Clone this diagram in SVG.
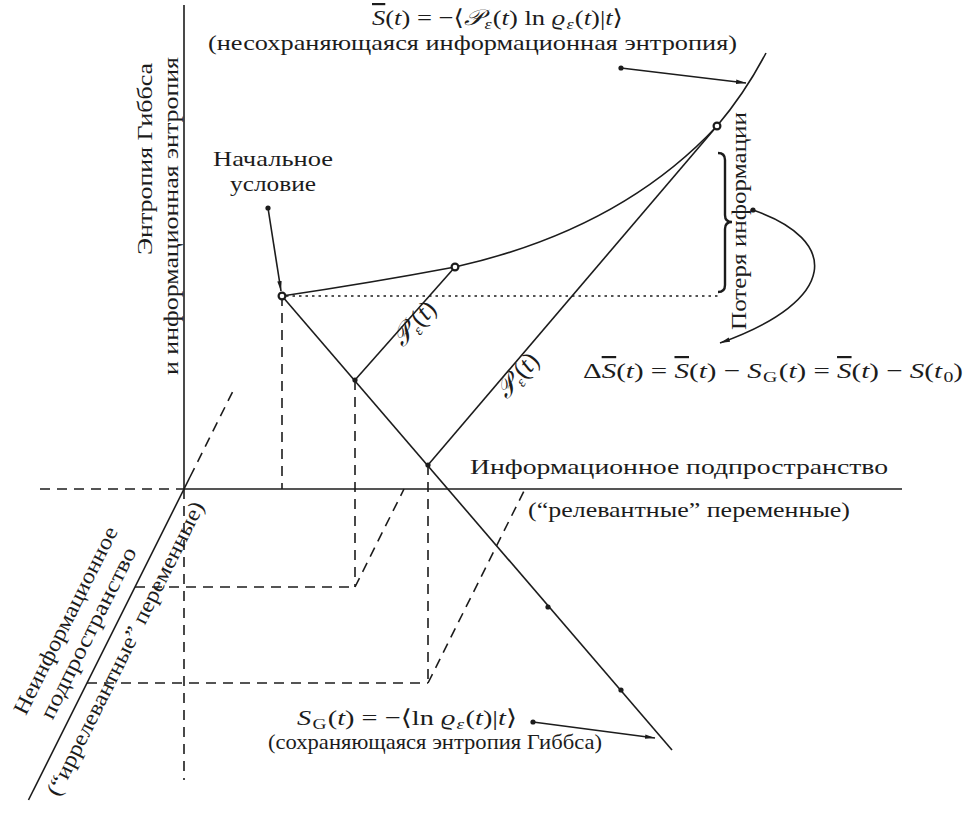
<svg xmlns="http://www.w3.org/2000/svg" width="972" height="822" viewBox="0 0 972 822">
<style>
.ln{stroke:#1c1c1c;stroke-width:1.6;fill:none}
.ds{stroke-dasharray:10 7}
.dt{stroke-dasharray:2.5 4}
.t{font-family:"Liberation Serif","DejaVu Serif",serif;font-size:22px;fill:#1c1c1c}
.i{font-style:italic}
.sub{font-size:15px}
.dot{fill:#1c1c1c}
.oc{fill:#fff;stroke:#1c1c1c;stroke-width:2.2}
</style>
<defs>
<marker id="ar" viewBox="0 0 10 6" refX="10" refY="3" markerWidth="10" markerHeight="6" markerUnits="userSpaceOnUse" orient="auto">
<path d="M0,0.8 L10,3 L0,5.2 Z" fill="#1c1c1c"/>
</marker>
</defs>
<rect width="972" height="822" fill="#fff"/>

<g id="axes">
<line class="ln" x1="184" y1="5" x2="184" y2="489"/>
<line class="ln" x1="184" y1="489" x2="902" y2="489"/>
<line class="ln ds" x1="40" y1="489" x2="184" y2="489"/>
<line class="ln ds" x1="184" y1="489" x2="184" y2="780"/>
<line class="ln" x1="28.5" y1="800" x2="190" y2="477"/>
<line class="ln ds" x1="190" y1="477" x2="234" y2="389"/>
</g>

<g id="connectors">
<line class="ln ds" x1="282" y1="296" x2="282" y2="489"/>
<line class="ln ds" x1="355" y1="380" x2="355" y2="587"/>
<line class="ln ds" x1="428" y1="465" x2="428" y2="683"/>
<line class="ln ds" x1="135" y1="587" x2="355" y2="587"/>
<line class="ln ds" x1="87" y1="683" x2="428" y2="683"/>
<line class="ln ds" x1="355" y1="587" x2="404" y2="489"/>
<line class="ln ds" x1="428" y1="683" x2="525" y2="489"/>
<line class="ln dt" x1="286" y1="296" x2="719" y2="296"/>
<line class="ln" x1="282" y1="296" x2="672" y2="750"/>
<line class="ln" x1="355" y1="380" x2="455" y2="267"/>
<line class="ln" x1="428" y1="465" x2="717" y2="126"/>
<path class="ln" d="M282,296 Q370,283 455,267 Q620,230 717,126 Q745,93 766,53"/>
<path d="M718,153 Q725,153 725,160 L725,215 Q725,222 732,222 Q725,222 725,229 L725,285 Q725,292 718,292" fill="none" stroke="#1c1c1c" stroke-width="2.4"/>
<line class="ln" x1="268" y1="208" x2="281" y2="291" marker-end="url(#ar)"/>
<line class="ln" x1="621" y1="68" x2="746" y2="83" marker-end="url(#ar)"/>
<line class="ln" x1="533" y1="722" x2="655" y2="738" marker-end="url(#ar)"/>
<path class="ln" d="M753,210 C840,240 840,300 720,343" marker-end="url(#ar)"/>
</g>

<g id="points">
<circle class="dot" cx="268" cy="208" r="2.6"/>
<circle class="dot" cx="621" cy="68" r="2.6"/>
<circle class="dot" cx="533" cy="722" r="2.6"/>
<circle class="dot" cx="753" cy="210" r="2.6"/>
<circle class="dot" cx="355" cy="380" r="2.6"/>
<circle class="dot" cx="428" cy="465" r="2.6"/>
<circle class="dot" cx="548" cy="607" r="2.6"/>
<circle class="dot" cx="621" cy="690" r="2.6"/>
<circle class="oc" cx="282" cy="296" r="3.4"/>
<circle class="oc" cx="455" cy="267" r="3.4"/>
<circle class="oc" cx="717" cy="126" r="3.4"/>
</g>

<g id="labels">
<text class="t" x="372" y="25" textLength="251" lengthAdjust="spacingAndGlyphs"><tspan class="i" text-decoration="overline">S</tspan>(<tspan class="i">t</tspan>) = −⟨<tspan class="i">𝒫</tspan><tspan class="i sub" dx="1" dy="4">ε</tspan><tspan dx="1" dy="-4">(</tspan><tspan class="i">t</tspan>) ln <tspan class="i">ϱ</tspan><tspan class="i sub" dx="1" dy="4">ε</tspan><tspan dx="1" dy="-4">(</tspan><tspan class="i">t</tspan>)|<tspan class="i">t</tspan>⟩</text>
<text class="t" x="208" y="50" textLength="529" lengthAdjust="spacingAndGlyphs">(несохраняющаяся информационная энтропия)</text>

<text class="t" x="213" y="166" textLength="120" lengthAdjust="spacingAndGlyphs">Начальное</text>
<text class="t" x="230" y="191" textLength="86" lengthAdjust="spacingAndGlyphs">условие</text>

<text class="t" transform="translate(152 255) rotate(-90)" textLength="192" lengthAdjust="spacingAndGlyphs">Энтропия Гиббса</text>
<text class="t" transform="translate(178 375) rotate(-90)" textLength="318" lengthAdjust="spacingAndGlyphs">и информационная энтропия</text>

<text class="t" transform="translate(746 330) rotate(-90)" textLength="218" lengthAdjust="spacingAndGlyphs">Потеря информации</text>

<text class="t" x="583" y="378" textLength="380" lengthAdjust="spacingAndGlyphs"><tspan>Δ</tspan><tspan class="i" text-decoration="overline">S</tspan>(<tspan class="i">t</tspan>) = <tspan class="i" text-decoration="overline">S</tspan>(<tspan class="i">t</tspan>) − <tspan class="i">S</tspan><tspan class="sub" dx="1" dy="4">G</tspan><tspan dx="1" dy="-4">(</tspan><tspan class="i">t</tspan>) = <tspan class="i" text-decoration="overline">S</tspan>(<tspan class="i">t</tspan>) − <tspan class="i">S</tspan>(<tspan class="i">t</tspan><tspan class="sub" dx="1" dy="4">0</tspan><tspan dy="-4">)</tspan></text>

<text class="t" x="470" y="474" textLength="418" lengthAdjust="spacingAndGlyphs">Информационное подпространство</text>
<text class="t" x="528" y="517" textLength="322" lengthAdjust="spacingAndGlyphs">(“релевантные” переменные)</text>

<text class="t" x="297" y="725" textLength="220" lengthAdjust="spacingAndGlyphs"><tspan class="i">S</tspan><tspan class="sub" dx="1" dy="4">G</tspan><tspan dx="1" dy="-4">(</tspan><tspan class="i">t</tspan>) = −⟨ln <tspan class="i">ϱ</tspan><tspan class="i sub" dx="1" dy="4">ε</tspan><tspan dx="1" dy="-4">(</tspan><tspan class="i">t</tspan>)|<tspan class="i">t</tspan>⟩</text>
<text class="t" x="268" y="749" textLength="334" lengthAdjust="spacingAndGlyphs">(сохраняющаяся энтропия Гиббса)</text>

<text class="t" style="font-size:26px" text-anchor="middle" transform="translate(416 325) rotate(-48.5)" y="6"><tspan class="i">𝒫</tspan><tspan class="i sub" dx="1" dy="4">ε</tspan><tspan dx="1" dy="-4">(</tspan><tspan class="i">t</tspan>)</text>
<text class="t" style="font-size:26px" text-anchor="middle" transform="translate(519 377) rotate(-49.5)" y="6"><tspan class="i">𝒫</tspan><tspan class="i sub" dx="1" dy="4">ε</tspan><tspan dx="1" dy="-4">(</tspan><tspan class="i">t</tspan>)</text>

<g transform="translate(184 489) rotate(-63.43)">
<text class="t" x="-274" y="-40" textLength="207" lengthAdjust="spacingAndGlyphs">Неинформационное</text>
<text class="t" x="-266" y="-14" textLength="189" lengthAdjust="spacingAndGlyphs">подпространство</text>
<text class="t" x="-332" y="26" textLength="326" lengthAdjust="spacingAndGlyphs">(“иррелевантные” переменные)</text>
</g>
</g>
</svg>
